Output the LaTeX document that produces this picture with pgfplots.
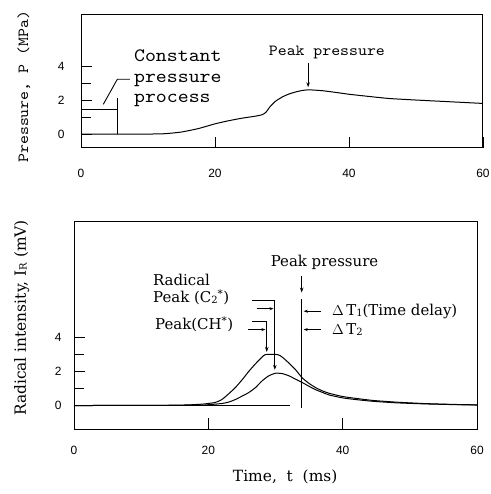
\documentclass[border=0pt]{standalone}
\usepackage{fontspec}
\setmainfont{DejaVu Serif}
\newfontfamily\mono[Extension=.otf, FakeStretch=1.1]{lmmono10-regular}
\newfontfamily\tickfam{Liberation Sans}
\usepackage{pgfplots}
\pgfplotsset{compat=1.18}
\usetikzlibrary{arrows.meta}
\newcommand{\tickfont}{\tickfam\fontsize{12}{12}\selectfont}
\newcommand{\serif}{\fontsize{15}{16}\selectfont}
\newcommand{\sub}[1]{\raisebox{-0.1ex}{\fontsize{10}{10}\selectfont #1}}
\begin{document}
\begin{tikzpicture}
\path[use as bounding box] (0,0) rectangle (491bp,494bp);
% ---------------- top panel ----------------
\begin{axis}[
 at={(81bp,346bp)}, anchor=south west,
 scale only axis, width=402bp, height=133bp,
 xmin=0, xmax=60, ymin=-0.82, ymax=7.0,
 xtick={0,20,40,60}, xticklabels={0,20,40,60},
 ytick={0,2,4}, yticklabels={0,2,4}, minor ytick={1,3},
 tick align=inside, xtick pos=bottom, ytick pos=left,
 major tick length=11bp, minor tick length=10bp,
 tick style={black, line width=0.9bp},
 axis line style={line width=1bp},
 ticklabel style={font=\tickfont},
 xticklabel style={yshift=-18bp},
 yticklabel style={xshift=-13bp},
 ylabel={Pressure, P (MPa)},
 ylabel style={font=\mono\fontsize{15.5}{15.5}\selectfont, at={(axis description cs:-0.142,0.46)}, anchor=center},
 clip=false,
]
\addplot[black, line width=1bp, smooth, tension=0.35] coordinates {
 (0,0) (5.5,0) (10,0) (12.5,0.02) (15,0.12) (17.5,0.32) (20,0.6) (22,0.78)
 (24,0.93) (26,1.05) (27,1.13) (27.6,1.28) (28.2,1.6) (29,1.92) (30,2.17)
 (31,2.35) (32,2.47) (33,2.56) (34,2.6) (36,2.55) (38,2.45) (40,2.34)
 (43,2.21) (46,2.09) (50,2.0) (55,1.9) (60,1.8)};
\draw[line width=1bp] (0,1.45) -- (5.5,1.45);
\draw[line width=1bp] (5.5,0) -- (5.5,2.1);
\draw[line width=0.9bp] (7.3,3.22) -- (5.42,3.22) -- (3.33,1.75);
\node[anchor=north west, align=left, inner sep=0, font=\mono\fontsize{19}{20.5}\selectfont] at (7.9,4.95) {Constant\\pressure\\process};
\node[inner sep=0, font=\mono\fontsize{15.5}{16}\selectfont] at (36.7,4.8) {Peak pressure};
\draw[line width=0.9bp, -{Stealth[length=5bp,width=3.5bp]}] (33.9,4.2) -- (33.9,2.75);
\end{axis}
% ---------------- bottom panel ----------------
\begin{axis}[
 at={(74bp,65bp)}, anchor=south west,
 scale only axis, width=403bp, height=207bp,
 xmin=0, xmax=60, ymin=-1.38, ymax=10.8,
 xtick={0,20,40,60}, xticklabels={0,20,40,60},
 ytick={0,2,4}, yticklabels={0,2,4}, minor ytick={1,3},
 tick align=inside, xtick pos=bottom, ytick pos=left,
 major tick length=11bp, minor tick length=10bp,
 tick style={black, line width=0.9bp},
 axis line style={line width=1bp},
 ticklabel style={font=\tickfont},
 xticklabel style={yshift=-14bp},
 yticklabel style={xshift=-9bp},
 ylabel={Radical intensity,\ I\sub{R}\ (mV)},
 ylabel style={font=\fontsize{15.5}{15.5}\selectfont, at={(axis description cs:-0.13,0.536)}, anchor=center},
 xlabel={Time,\ \ t\ \ (ms)},
 xlabel style={font=\fontsize{15.5}{15.5}\selectfont, at={(axis description cs:0.524,-0.232)}, anchor=center},
 clip=false,
]
\addplot[black, line width=1bp, smooth, tension=0.35] coordinates {
 (0,0) (15,0.02) (19,0.08) (21,0.18) (22,0.35) (23,0.68) (24,1.05) (25,1.5)
 (26,2.0) (27,2.45) (28,2.85) (28.5,3.0) (30.3,3.0) (31,2.85) (32,2.5)
 (33,2.1) (34,1.62) (35,1.3) (36,1.05) (37,0.86) (38,0.72) (40,0.53)
 (42,0.42) (44.5,0.3) (48,0.2) (52,0.12) (56,0.07) (60,0.04)};
\addplot[black, line width=1bp, smooth, tension=0.35] coordinates {
 (0,0) (18,0.02) (20,0.05) (22,0.12) (23,0.2) (24,0.35) (25,0.55) (26,0.76)
 (27,1.05) (28,1.45) (29,1.75) (30,1.9) (31,1.88) (32,1.75) (33,1.55)
 (34,1.35) (35,1.13) (36,0.93) (37,0.77) (38,0.62) (40,0.45) (42,0.35)
 (44.5,0.25) (48,0.16) (52,0.1) (56,0.06) (60,0.03)};
\draw[line width=0.9bp] (0,0) -- (32.2,0);
\draw[line width=0.9bp, -{Stealth[length=5bp,width=3.5bp]}] (33.9,7.6) -- (33.9,6.65);
\draw[line width=0.9bp] (33.9,6.25) -- (33.9,-0.15);
\node[inner sep=0, font=\serif] at (37.3,8.4) {Peak\ pressure};
\draw[line width=0.9bp, {Stealth[length=4bp,width=3bp]}-] (34.2,5.55) -- (36.7,5.55);
\node[anchor=west, inner sep=0, font=\serif] at (38.4,5.55) {$\Delta$\,T\sub{1}(Time\ delay)};
\draw[line width=0.9bp, {Stealth[length=4bp,width=3bp]}-] (34.2,4.47) -- (36.7,4.47);
\node[anchor=west, inner sep=0, font=\serif] at (38.4,4.47) {$\Delta$\,T\sub{2}};
\node[anchor=west, inner sep=0, font=\serif] at (11.75,7.38) {Radical};
\node[anchor=west, inner sep=0, font=\serif] at (11.75,6.38) {Peak\ (C\sub{2}\textsuperscript{*})};
\node[anchor=west, inner sep=0, font=\serif] at (12.05,4.8) {Peak(CH\textsuperscript{*})};
\draw[line width=0.9bp, -{Stealth[length=5bp,width=3.5bp]}] (26.5,6.2) -- (29.9,6.2) -- (29.9,2.1);
\draw[line width=0.9bp, -{Stealth[length=4bp,width=3bp]}] (27.2,5.7) -- (29.7,5.7);
\draw[line width=0.9bp, -{Stealth[length=5bp,width=3.5bp]}] (26.5,4.94) -- (28.7,4.94) -- (28.7,3.15);
\draw[line width=0.9bp, -{Stealth[length=4bp,width=3bp]}] (25.9,4.47) -- (28.5,4.47);
\end{axis}
\end{tikzpicture}
\end{document}
